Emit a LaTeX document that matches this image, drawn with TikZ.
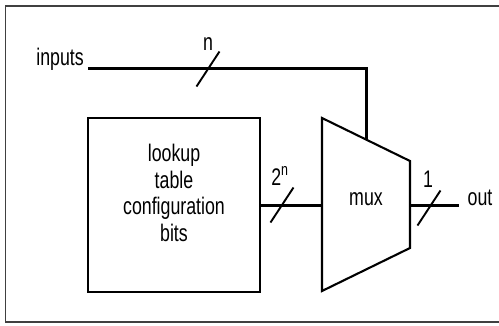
\documentclass[tikz,border=0pt]{standalone}
\usepackage{fontspec}
\setmainfont[FakeStretch=0.74]{Liberation Sans}
\usetikzlibrary{positioning,calc}
\tikzset{wire/.style={draw, line width=3pt}}
\tikzset{blk/.style={draw, line width=2.1pt}}
\tikzset{slash/.style={draw, line width=1.9pt}}
\tikzset{lbl/.style={inner sep=0pt, anchor=base}}

\begin{document}
\begin{tikzpicture}[x=1pt, y=-1pt, font=\fontsize{24}{26.7}\selectfont]
   \useasboundingbox (0,0) rectangle (499,325);
   \draw[black!75, line width=1.2pt] (5.5,6) rectangle (520,322);
   % lookup table
   \node[blk, minimum width=172pt, minimum height=174pt] (lut) at (174,205) {};
   \node[align=center, inner sep=0pt] (luttext) at (174,193)
       {lookup\\table\\configuration\\bits};
   % mux
   \coordinate (mtl) at (322,118);
   \coordinate (mtr) at (410,161);
   \coordinate (mbr) at (410,248);
   \coordinate (mbl) at (322,291);
   \draw[blk] (mtl) -- (mtr) -- (mbr) -- (mbl) -- cycle;
   \node[lbl] (mux) at (366,205) {mux};
   \coordinate (sel) at ($(mtl)!0.511!(mtr)$);
   \coordinate (muxin) at (322,205);
   \coordinate (muxout) at (410,205);
   % inputs
   \coordinate (inp) at (88,68);
   \node[lbl, anchor=base east] (inputs) at (84,65) {inputs};
   \draw[wire] (inp) -- (inp -| sel) -- (sel);
   % config bits
   \draw[wire] (lut.east) -- (muxin);
   % out
   \coordinate (outp) at (459,205);
   \node[lbl] (out) at (480,205) {out};
   \draw[wire] (muxout) -- (outp);
   % bus widths
   \foreach \c/\t in {208/69, 282/205, 429/208}
       \draw[slash] (\c-11.5,\t+17.5) -- ++(23,-35);
   \node[lbl] (nlbl) at (208,50) {n};
   \node[lbl] (twon) at (280,185) {2\textsuperscript{n}};
   \node[lbl] (one) at (428,187) {1};
\end{tikzpicture}
\end{document}
